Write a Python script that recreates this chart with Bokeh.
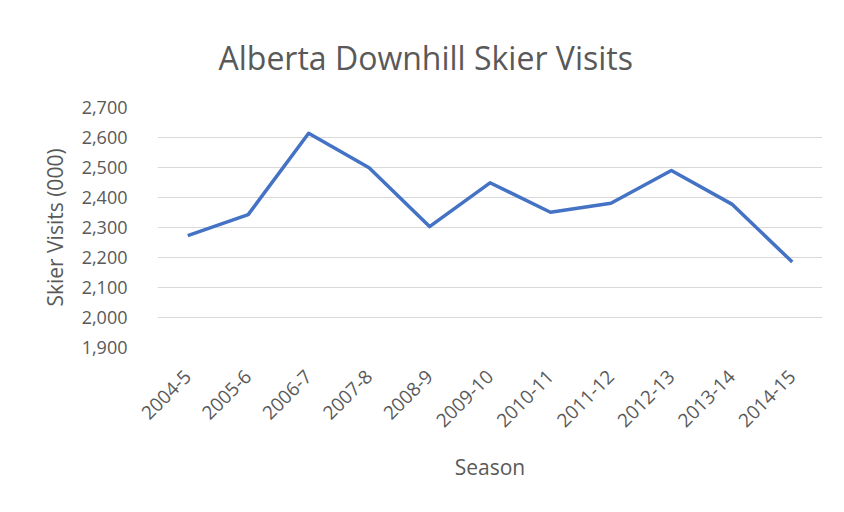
import math
from bokeh.plotting import figure
from bokeh.models import Range1d, NumeralTickFormatter, FixedTicker, Title
from bokeh.embed import file_html
from bokeh.resources import INLINE

seasons = ["2004-5", "2005-6", "2006-7", "2007-8", "2008-9", "2009-10",
           "2010-11", "2011-12", "2012-13", "2013-14", "2014-15"]
visits = [2273, 2343, 2614, 2499, 2303, 2449, 2351, 2381, 2490, 2378, 2185]
y_ticks = [1900, 2000, 2100, 2200, 2300, 2400, 2500, 2600, 2700]

FONT = "Open Sans"
TXT = "#595959"

p = figure(width=844, height=512, x_range=seasons, y_range=Range1d(1900, 2700),
           output_backend="svg", toolbar_location=None,
           min_border_left=157, min_border_right=22, min_border_top=107,
           min_border_bottom=165)

p.line(seasons, visits, line_color="#4472C4", line_width=3.5, line_join="round")

p.add_layout(Title(text="Alberta Downhill Skier Visits", align="left", offset=61,
                   text_font=FONT, text_font_size="32px", text_color=TXT,
                   text_font_style="normal", standoff=58), "above")

p.outline_line_color = None
p.xgrid.grid_line_color = None
p.ygrid.grid_line_color = "#d9d9d9"
p.ygrid.grid_line_width = 1

p.yaxis.ticker = FixedTicker(ticks=y_ticks)
p.yaxis.formatter = NumeralTickFormatter(format="0,0")
for ax in (p.xaxis, p.yaxis):
    ax.axis_line_color = None
    ax.major_tick_line_color = None
    ax.minor_tick_line_color = None
    ax.major_label_text_font = FONT
    ax.major_label_text_color = TXT
    ax.axis_label_text_font = FONT
    ax.axis_label_text_color = TXT
    ax.axis_label_text_font_style = "normal"
    ax.axis_label_text_font_size = "21px"

p.yaxis.major_label_text_font_size = "18px"
p.yaxis.major_label_standoff = 24
p.yaxis.axis_label = "Skier Visits (000)"
p.yaxis.axis_label_standoff = 10

p.xaxis.major_label_text_font_size = "19px"
p.xaxis.major_label_orientation = math.pi / 4
p.xaxis.major_label_standoff = 20
p.xaxis.axis_label = "Season"
p.xaxis.axis_label_standoff = 17

open("out.html", "w").write(file_html(p, INLINE))
